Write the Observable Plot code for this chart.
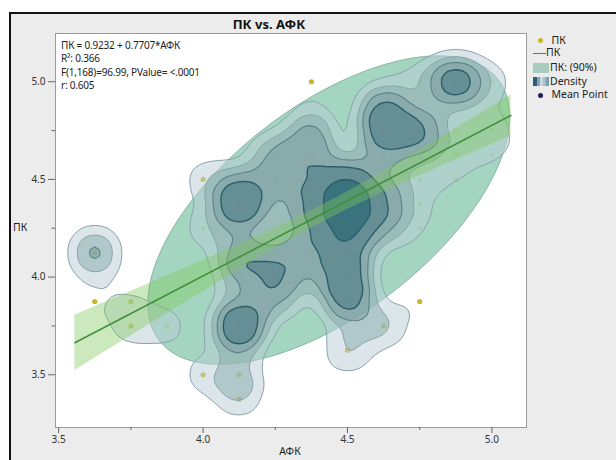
<!DOCTYPE html>
<html><head><meta charset="utf-8">
<script src="https://cdn.jsdelivr.net/npm/d3@7"></script>
<script src="https://cdn.jsdelivr.net/npm/@observablehq/plot@0.6"></script>
<style>
html,body{margin:0;padding:0;background:#fff;}
body{width:616px;height:460px;position:relative;overflow:hidden;font-family:"Noto Sans","Open Sans",sans-serif;color:#222;}
#box{position:absolute;left:9px;top:12px;width:700px;height:500px;background:#ececec;border-left:2px solid #111;border-top:2px solid #111;}
#chart{position:absolute;left:0;top:0;}
.t{position:absolute;font-size:10px;white-space:nowrap;line-height:1;}
#title{position:absolute;left:269px;top:15px;transform:translateX(-50%);font-weight:bold;font-size:13px;white-space:nowrap;color:#111;}
#stats{position:absolute;left:61px;top:39px;font-size:10px;line-height:13.3px;white-space:nowrap;letter-spacing:-0.2px;}
.leg{position:absolute;left:532px;font-size:10.5px;line-height:1;white-space:nowrap;}
.sw{position:absolute;left:533px;width:16px;}
</style></head>
<body>
<div id="box"></div>
<div id="chart"></div>
<div id="title"></div>
<div id="stats"></div>
<div id="legend"></div>
<div class="t" id="ylab" style="left:13px;top:222px;font-size:10.5px;"></div>
<div class="t" id="xlab" style="left:290px;top:446px;transform:translateX(-50%);font-size:10.5px;"></div>
<script>
// ---- data (unique points and estimated counts) ----
const AFK = [4.375,4.75,4.875,5.0, 4.625, 4.375,4.625,4.75,4.875,5.0, 4.25,4.375,4.625,4.75,4.875,5.0,
  4.0,4.125,4.25,4.375,4.5,4.625,4.75,4.875, 4.125,4.25,4.375,4.5,4.625,4.75, 4.0,4.375,4.5,4.625,4.75,
  3.625,4.125,4.25,4.375,4.5, 4.125,4.25,4.375,4.5, 3.625,3.75,4.25,4.5,4.75, 3.75,3.875,4.125,4.625,
  4.5, 4.0,4.125, 4.125];
const PK = [5.0,5.0,5.0,5.0, 4.875, 4.75,4.75,4.75,4.75,4.75, 4.625,4.625,4.625,4.625,4.625,4.625,
  4.5,4.5,4.5,4.5,4.5,4.5,4.5,4.5, 4.375,4.375,4.375,4.375,4.375,4.375, 4.25,4.25,4.25,4.25,4.25,
  4.125,4.125,4.125,4.125,4.125, 4.0,4.0,4.0,4.0, 3.875,3.875,3.875,3.875,3.875, 3.75,3.75,3.75,3.75,
  3.625, 3.5,3.5, 3.375];
const COUNT = [1,2,8,2, 5, 4,6,6,1,2, 4,3,2,1,1,1,
  2,2,2,3,6,2,1,1, 9,2,4,8,4,1, 2,3,6,3,1,
  5,4,3,3,4, 3,4,2,5, 1,1,3,6,1, 2,2,10,3,
  3, 2,3, 2];

// ---- fit / summary statistics shown in the reference ----
const TITLE = "ПК vs. АФК";
const X_LABEL = "АФК", Y_LABEL = "ПК";
const STAT_LINES = ["ПК = 0.9232 + 0.7707*АФК", "R²: 0.366", "F(1,168)=96.99, PValue= <.0001", "r: 0.605"];
const INTERCEPT = 0.9232, SLOPE = 0.7707, N_OBS = 170;
const MEAN_POINT = [4.435, 4.343];
const SD_X = 0.292, SD_Y = 0.368, R_XY = 0.605;
const RMSE = 0.294, T_CRIT = 1.974;
const FIT_RANGE = [3.556, 5.066];
const ELLIPSE_LEVEL = 0.90;
const X_TICKS = [3.5, 4.0, 4.5, 5.0], X_MINOR = [3.75, 4.25, 4.75];
const Y_TICKS = [3.5, 4.0, 4.5, 5.0], Y_MINOR = [3.75, 4.25, 4.75];
const LEGEND = ["ПК", "ПК", "ПК: (90%)", "Density", "Mean Point"];
// density contour levels (density ×100 per px²) and their colours
const DENSITY_LEVELS = [0.0803, 0.16, 0.2426, 0.353, 0.529];
const DENSITY_COLORS = ["#b9cdd5", "#86aaaa", "#789a9e", "#41727e", "#105866"];

const points = AFK.map((x, i) => ({x, y: PK[i], n: COUNT[i]}));

// 90% bivariate normal density ellipse from the summary statistics
const c = Math.sqrt(-2 * Math.log(1 - ELLIPSE_LEVEL));
const ellipse = d3.range(0, 361, 3).map(a => {
  const t = a * Math.PI / 180;
  return {x: MEAN_POINT[0] + c * SD_X * Math.cos(t),
          y: MEAN_POINT[1] + c * SD_Y * (R_XY * Math.cos(t) + Math.sqrt(1 - R_XY * R_XY) * Math.sin(t))};
});
// fitted line with its confidence band
const SXX = (N_OBS - 1) * SD_X * SD_X;
const band = d3.range(0, 41).map(i => {
  const x = FIT_RANGE[0] + (FIT_RANGE[1] - FIT_RANGE[0]) * i / 40;
  const yh = INTERCEPT + SLOPE * x;
  const h = T_CRIT * RMSE * Math.sqrt(1 / N_OBS + (x - MEAN_POINT[0]) ** 2 / SXX);
  return {x, y: yh, y1: yh - h, y2: yh + h};
});
const fitLine = FIT_RANGE.map(x => ({x, y: INTERCEPT + SLOPE * x}));

const dens = {x: "x", y: "y", weight: "n", bandwidth: 15};
const fmt = d => d.toFixed(1);
const chart = Plot.plot({
  width: 616, height: 460,
  marginLeft: 55, marginRight: 90, marginTop: 33, marginBottom: 33,
  style: {background: "transparent", fontFamily: "'Noto Sans', sans-serif", fontSize: "10px", color: "#333"},
  x: {domain: [3.489, 5.1197]},
  y: {domain: [3.230, 5.247]},
  color: {type: "ordinal", domain: DENSITY_LEVELS, range: DENSITY_COLORS},
  marks: [
    Plot.frame({fill: "white", stroke: "none"}),
    Plot.dot(points, {x: "x", y: "y", r: 2.6, fill: "#c9b62b", stroke: "none"}),
    Plot.dot([MEAN_POINT], {x: d => d[0], y: d => d[1], r: 2.6, fill: "#1b1f5a", stroke: "none"}),
    Plot.line(ellipse, {x: "x", y: "y", curve: "linear-closed", fill: "#8ccbb0", fillOpacity: 0.8, stroke: "#6f9f92", strokeOpacity: 0.7, strokeWidth: 1}),
    Plot.density(points, {...dens, thresholds: DENSITY_LEVELS, fill: "density", fillOpacity: 0.5, stroke: "none"}),
    Plot.density(points, {...dens, thresholds: DENSITY_LEVELS.slice(0, 2), stroke: "#8aa4ac", strokeWidth: 1}),
    Plot.density(points, {...dens, thresholds: DENSITY_LEVELS.slice(2, 3), stroke: "#5b8088", strokeWidth: 1.1}),
    Plot.density(points, {...dens, thresholds: DENSITY_LEVELS.slice(3), stroke: "#2a5f69", strokeWidth: 1.4}),
    Plot.areaY(band, {x: "x", y1: "y1", y2: "y2", fill: "#7fc95a", fillOpacity: 0.4}),
    Plot.line(fitLine, {x: "x", y: "y", stroke: "#3e8e3a", strokeWidth: 1.5}),
    Plot.frame({stroke: "#9a9a9a"}),
    Plot.axisX({ticks: X_TICKS, tickFormat: fmt, tickSize: 6, tickPadding: 2, label: null, stroke: "#666", fill: "#333"}),
    Plot.axisX({ticks: X_MINOR, tickFormat: () => "", tickSize: 3, label: null, stroke: "#666"}),
    Plot.axisY({ticks: Y_TICKS, tickFormat: fmt, tickSize: 7, tickPadding: 3, label: null, stroke: "#666", fill: "#333"}),
    Plot.axisY({ticks: Y_MINOR, tickFormat: () => "", tickSize: 3.5, label: null, stroke: "#666"})
  ]
});
document.getElementById("chart").appendChild(chart);
document.getElementById("title").textContent = TITLE;
document.getElementById("xlab").textContent = X_LABEL;
document.getElementById("ylab").textContent = Y_LABEL;
document.getElementById("stats").innerHTML = STAT_LINES.map(s => `<div>${s}</div>`).join("");

// legend
const L = document.getElementById("legend");
const rowsY = [40.7, 53.3, 68, 81.5, 95];
const sw = [
  `<div style="position:absolute;left:538px;top:${rowsY[0]-2.5}px;width:5px;height:5px;border-radius:50%;background:#c9b62b"></div>`,
  `<div style="position:absolute;left:533px;top:${rowsY[1]-0.75}px;width:13px;height:1.5px;background:#3e8e3a"></div>`,
  `<div class="sw" style="top:${rowsY[2]-4.7}px;height:9.4px;background:#a9cbc0"></div>`,
  `<div class="sw" style="top:${rowsY[3]-4.5}px;height:9px;background:linear-gradient(90deg,#2f5d78 0 28%,#7fa3b6 28% 45%,#c8d9e0 45% 62%,#a3bfcb 62% 80%,#7b9db0 80% 100%)"></div>`,
  `<div style="position:absolute;left:538px;top:${rowsY[4]-2.5}px;width:5px;height:5px;border-radius:50%;background:#1b1f5a"></div>`
];
const tx = [551.5, 546, 550, 550, 551.5];
L.innerHTML = sw.join("") + LEGEND.map((s, i) =>
  `<div class="leg" style="left:${tx[i]}px;top:${rowsY[i]-6}px">${s}</div>`).join("");
</script>
</body></html>
